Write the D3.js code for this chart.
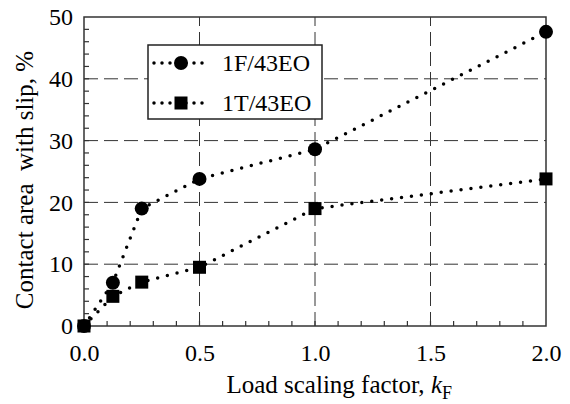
<!DOCTYPE html>
<html>
<head>
<meta charset="utf-8">
<script src="https://cdn.jsdelivr.net/npm/d3@7"></script>
<style>
  body { margin: 0; background: #fff; }
  text { font-family: "Liberation Serif", "Times New Roman", serif; fill: #000; }
</style>
</head>
<body>
<div id="vis"></div>
<script>
// data
const loadFactor = [0, 0.125, 0.25, 0.5, 1.0, 2.0];
const slip1F = [0, 7.0, 19.0, 23.8, 28.6, 47.6];
const slip1T = [0, 4.8, 7.1, 9.5, 19.0, 23.8];
const seriesNames = ['1F/43EO', '1T/43EO'];
const xTicks = [0, 0.5, 1.0, 1.5, 2.0];
const yTicks = [0, 10, 20, 30, 40, 50];

const W = 570, H = 404;
const margin = { top: 17, right: 24, bottom: 78, left: 84 };
const width = W - margin.left - margin.right;
const height = H - margin.top - margin.bottom;

const svg = d3.select('#vis')
    .append('svg')
    .attr('width', W)
    .attr('height', H);

const g = svg.append('g')
    .attr('transform', `translate(${margin.left},${margin.top})`);

const xScale = d3.scaleLinear().domain([0, 2]).range([0, width]);
const yScale = d3.scaleLinear().domain([0, 50]).range([height, 0]);

// dashed grid
const gridColor = '#333';
g.selectAll('.hgrid')
    .data(yTicks.filter(d => d > 0 && d < 50))
    .join('line')
    .attr('class', 'hgrid')
    .attr('x1', 0).attr('x2', width)
    .attr('y1', d => yScale(d)).attr('y2', d => yScale(d))
    .attr('stroke', gridColor).attr('stroke-width', 1)
    .attr('stroke-dasharray', '14,6');

g.selectAll('.vgrid')
    .data(xTicks.filter(d => d > 0 && d < 2))
    .join('line')
    .attr('class', 'vgrid')
    .attr('y1', height).attr('y2', 0)
    .attr('x1', d => xScale(d)).attr('x2', d => xScale(d))
    .attr('stroke', gridColor).attr('stroke-width', 1)
    .attr('stroke-dasharray', '14,6');

// minor ticks, inside
g.selectAll('.xminor')
    .data(d3.range(1, 20))
    .join('line')
    .attr('x1', d => xScale(d / 10)).attr('x2', d => xScale(d / 10))
    .attr('y1', height).attr('y2', height - 5)
    .attr('stroke', '#333').attr('stroke-width', 1.2);

g.selectAll('.yminor')
    .data(d3.range(1, 25))
    .join('line')
    .attr('y1', d => yScale(d * 2)).attr('y2', d => yScale(d * 2))
    .attr('x1', 0).attr('x2', 5)
    .attr('stroke', '#333').attr('stroke-width', 1.2);

// axes (labels only, frame drawn separately)
const xAxis = g.append('g')
    .attr('transform', `translate(0,${height})`)
    .call(d3.axisBottom(xScale).tickValues(xTicks).tickFormat(d3.format('.1f')).tickSize(0).tickPadding(18));
xAxis.select('.domain').remove();
xAxis.selectAll('text').style('font-size', '24px');

const yAxis = g.append('g')
    .call(d3.axisLeft(yScale).tickValues(yTicks).tickSize(0).tickPadding(11));
yAxis.select('.domain').remove();
yAxis.selectAll('text').style('font-size', '24px');

// frame
g.append('rect')
    .attr('x', 0).attr('y', 0)
    .attr('width', width).attr('height', height)
    .attr('fill', 'none')
    .attr('stroke', '#333').attr('stroke-width', 1.5);

// series
const series = [
    { name: seriesNames[0], values: slip1F, shape: 'circle' },
    { name: seriesNames[1], values: slip1T, shape: 'square' }
];

const line = d3.line()
    .x(d => xScale(d[0]))
    .y(d => yScale(d[1]));

series.forEach(s => {
    const pts = loadFactor.map((x, i) => [x, s.values[i]]);
    g.append('path')
        .datum(pts)
        .attr('d', line)
        .attr('fill', 'none')
        .attr('stroke', '#000')
        .attr('stroke-width', 3.5)
        .attr('stroke-linecap', 'round')
        .attr('stroke-dasharray', '0,10');

    if (s.shape === 'circle') {
        g.selectAll(null)
            .data(pts)
            .join('circle')
            .attr('cx', d => xScale(d[0]))
            .attr('cy', d => yScale(d[1]))
            .attr('r', 7)
            .attr('fill', '#000');
    } else {
        g.selectAll(null)
            .data(pts)
            .join('rect')
            .attr('x', d => xScale(d[0]) - 6.5)
            .attr('y', d => yScale(d[1]) - 6.5)
            .attr('width', 13).attr('height', 13)
            .attr('fill', '#000');
    }
});

// legend
const legend = svg.append('g').attr('transform', 'translate(148,45)');
legend.append('rect')
    .attr('width', 174).attr('height', 74)
    .attr('fill', '#fff')
    .attr('stroke', '#222').attr('stroke-width', 1.5);

series.forEach((s, i) => {
    const ly = 18 + i * 40;
    legend.append('line')
        .attr('x1', 6).attr('x2', 58)
        .attr('y1', ly).attr('y2', ly)
        .attr('stroke', '#000').attr('stroke-width', 3.5)
        .attr('stroke-linecap', 'round')
        .attr('stroke-dasharray', '0,8');
    if (s.shape === 'circle') {
        legend.append('circle').attr('cx', 33).attr('cy', ly).attr('r', 7).attr('fill', '#000');
    } else {
        legend.append('rect').attr('x', 26.5).attr('y', ly - 6.5).attr('width', 13).attr('height', 13).attr('fill', '#000');
    }
    legend.append('text')
        .attr('x', 74).attr('y', ly + 8)
        .style('font-size', '24px')
        .text(s.name);
});

// axis titles
const xt = svg.append('text')
    .attr('x', 452).attr('y', 393)
    .attr('text-anchor', 'end')
    .style('font-size', '25px');
xt.append('tspan').text('Load scaling factor, ');
xt.append('tspan').style('font-style', 'italic').text('k');
xt.append('tspan').attr('dy', 6).style('font-size', '18px').text('F');

svg.append('text')
    .attr('transform', 'translate(33,180) rotate(-90)')
    .attr('text-anchor', 'middle')
    .style('font-size', '25px')
    .style('white-space', 'pre')
    .text('Contact area  with slip, %');
</script>
</body>
</html>
